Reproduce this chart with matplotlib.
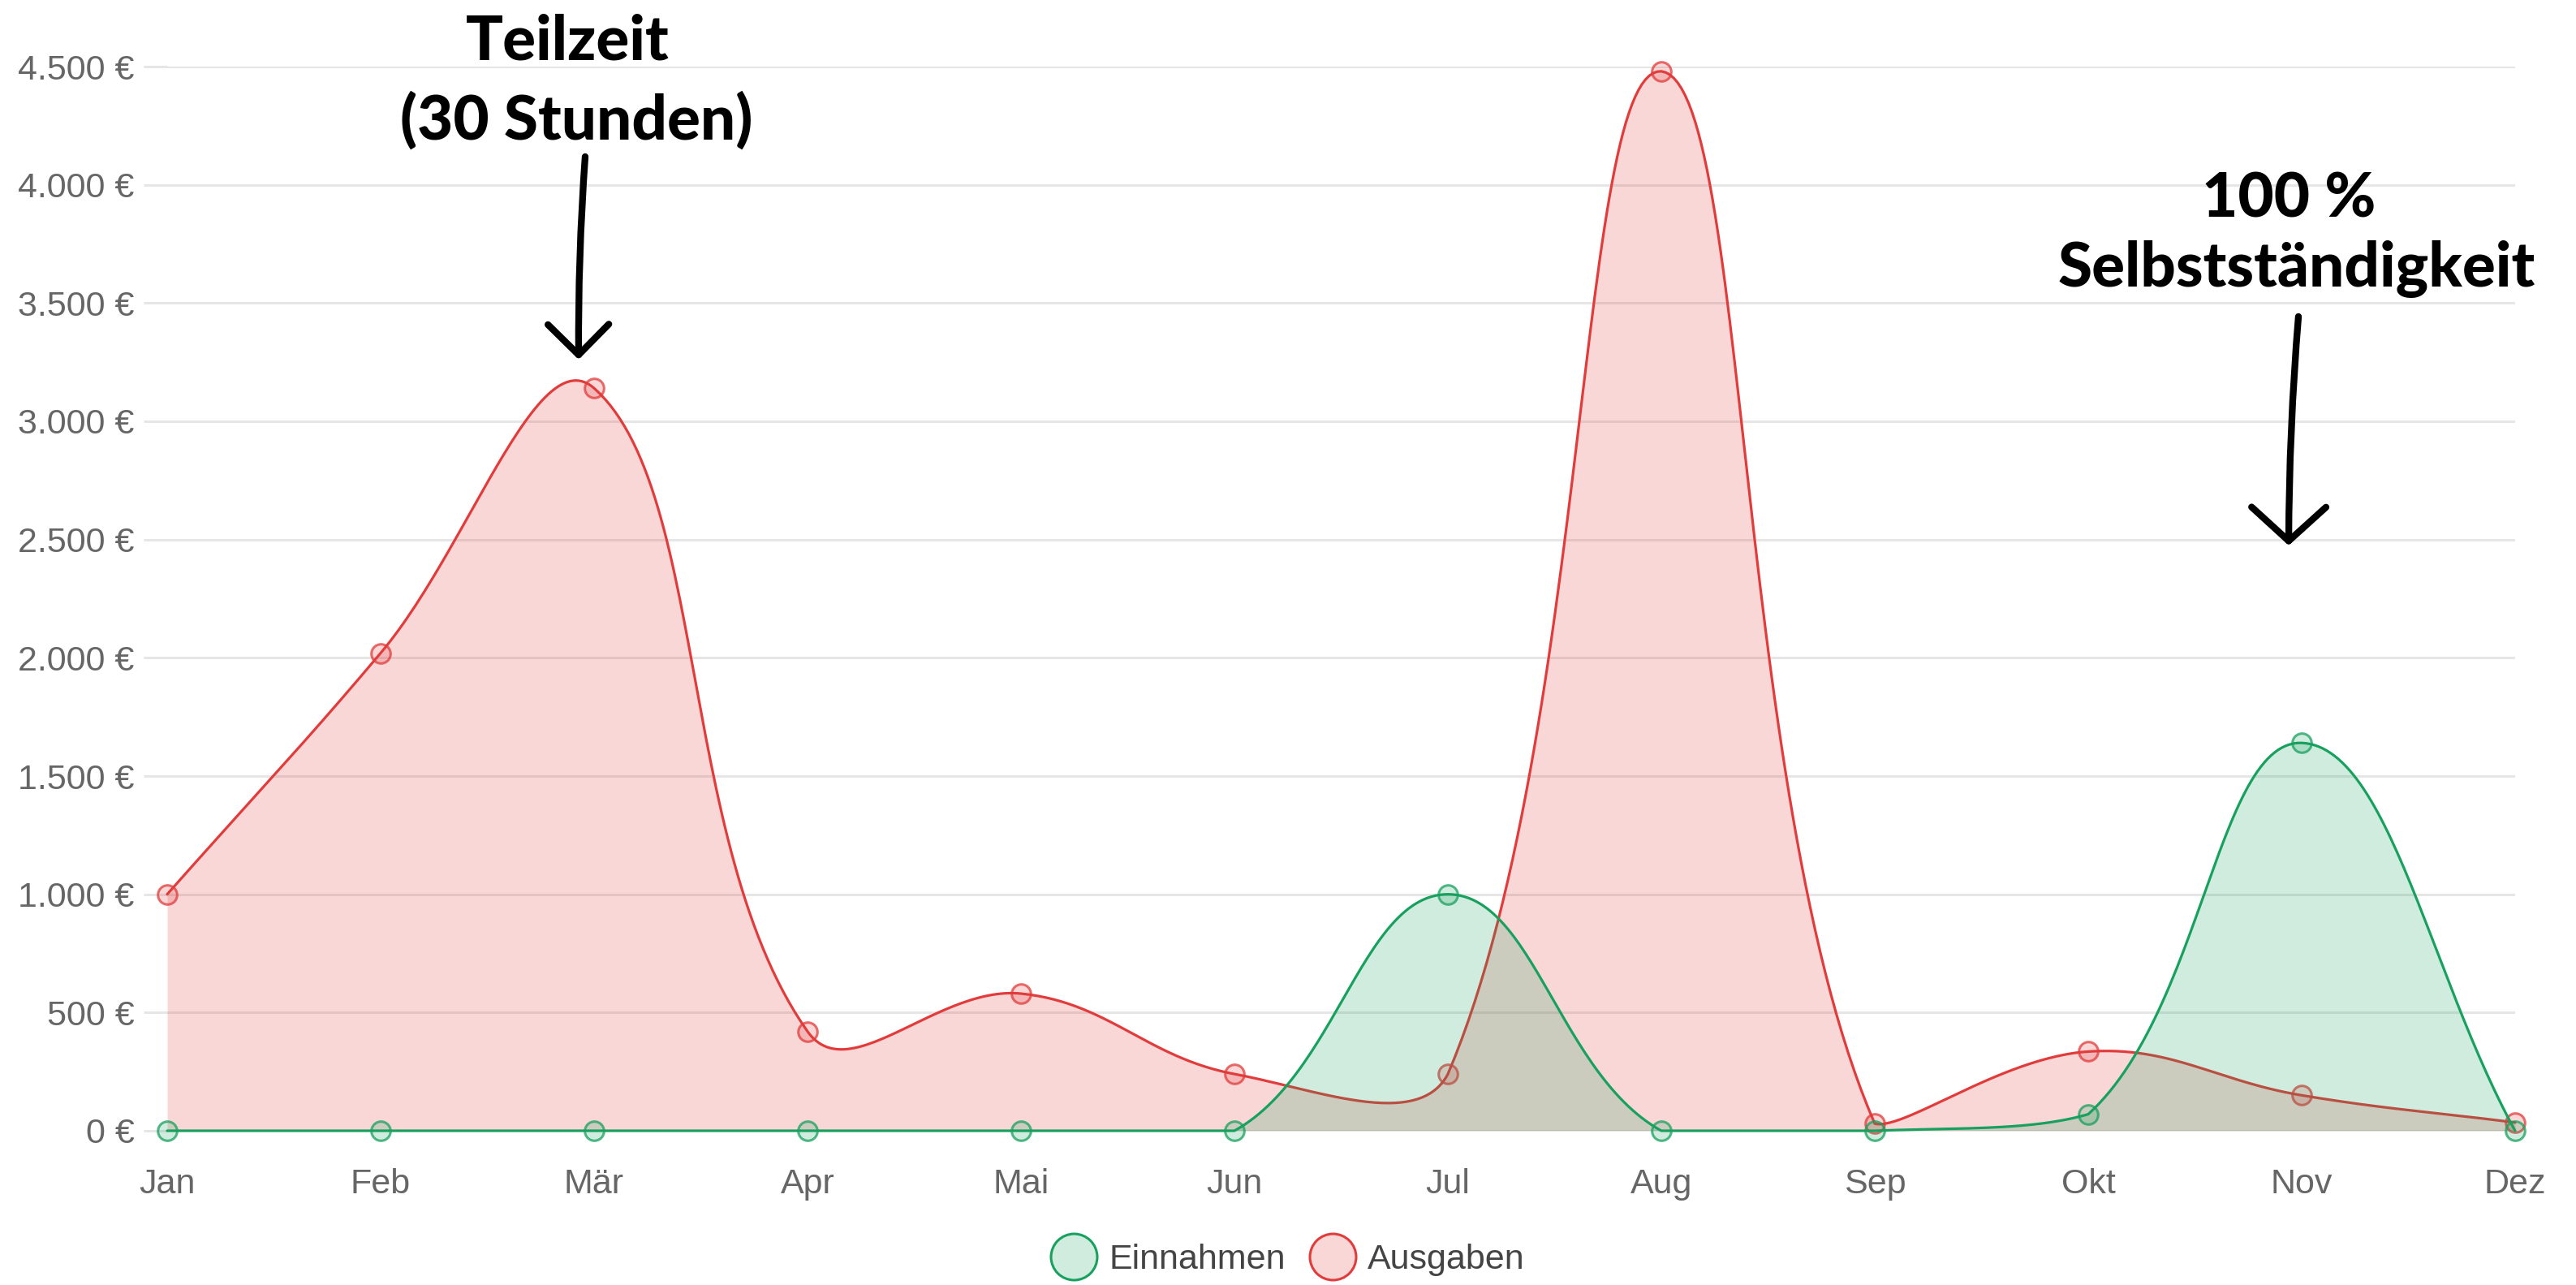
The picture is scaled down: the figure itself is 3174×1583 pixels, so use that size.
import matplotlib
matplotlib.use("Agg")
from matplotlib import pyplot as plt
from matplotlib.lines import Line2D
from matplotlib.ticker import FuncFormatter
import numpy as np

# Daten
monate = ["Jan", "Feb", "Mär", "Apr", "Mai", "Jun", "Jul", "Aug", "Sep", "Okt", "Nov", "Dez"]
einnahmen = [0, 0, 0, 0, 0, 0, 1000, 0, 0, 70, 1640, 0]
ausgaben = [1000, 2020, 3140, 420, 580, 240, 240, 4480, 30, 335, 150, 35]
y_ticks = [0, 500, 1000, 1500, 2000, 2500, 3000, 3500, 4000, 4500]

rot = "#e23b3b"
gruen = "#18a05e"
grid_col = "#e6e6e6"
tick_font = ["Liberation Sans", "DejaVu Sans"]
note_font = ["Lato", "DejaVu Sans"]

W, H = 3174, 1583
fig = plt.figure(figsize=(W / 100, H / 100), dpi=100)
ax = fig.add_axes([206 / W, 1 - 1393 / H, (3099 - 206) / W, (1393 - 82) / H])

xs = np.arange(len(monate))
ax.set_xlim(0, len(monate) - 1)
ax.set_ylim(0, 4500)


def spline(xv, yv, tension=0.4, steps=60):
    # bezier wie chart.js (tension 0.4), berechnet in pixeln
    pts = ax.transData.transform(np.column_stack([xv, yv]))
    lo = ax.transData.transform((xv[0], 0))
    hi = ax.transData.transform((xv[-1], 4500))
    lo, hi = np.minimum(lo, hi), np.maximum(lo, hi)
    n = len(pts)
    cprev, cnext = [], []
    for i in range(n):
        p = pts[max(i - 1, 0)]
        c = pts[i]
        nx = pts[min(i + 1, n - 1)]
        d01 = np.hypot(*(c - p))
        d12 = np.hypot(*(nx - c))
        tot = d01 + d12
        s01 = d01 / tot if tot else 0
        s12 = d12 / tot if tot else 0
        cprev.append(np.clip(c - tension * s01 * (nx - p), lo, hi))
        cnext.append(np.clip(c + tension * s12 * (nx - p), lo, hi))
    t = np.linspace(0, 1, steps)[:, None]
    out = [pts[:1]]
    for i in range(n - 1):
        p0, p1, p2, p3 = pts[i], cnext[i], cprev[i + 1], pts[i + 1]
        seg = ((1 - t) ** 3) * p0 + 3 * ((1 - t) ** 2) * t * p1 + 3 * (1 - t) * t ** 2 * p2 + t ** 3 * p3
        out.append(seg[1:])
    curve = ax.transData.inverted().transform(np.vstack(out))
    return curve[:, 0], curve[:, 1]


def serie(yv, col, z):
    cx, cy = spline(xs, yv)
    ax.fill_between(cx, 0, cy, color=col, alpha=0.2, lw=0, zorder=z)
    ax.plot(cx, cy, color=col, lw=2.3, zorder=z + 1, solid_capstyle="round", clip_on=False)
    ax.plot(xs, yv, "o", ms=17, mfc=matplotlib.colors.to_rgba(col, 0.2),
            mec=matplotlib.colors.to_rgba(col, 0.75), mew=2.2, zorder=z + 2, clip_on=False)


# ausgaben zuerst, einnahmen darueber
serie(ausgaben, rot, 2)
serie(einnahmen, gruen, 5)

ax.set_yticks(y_ticks)
ax.yaxis.set_major_formatter(FuncFormatter(lambda v, p: "{:,}".format(int(v)).replace(",", ".") + " €"))
ax.set_xticks(xs)
ax.set_xticklabels(monate)
ax.yaxis.grid(True, color=grid_col, lw=2.2)
ax.set_axisbelow(True)
for s in ax.spines.values():
    s.set_visible(False)
ax.tick_params(axis="y", length=21, width=2.2, color=grid_col, labelcolor="#666666",
               labelsize=31, pad=8)
ax.tick_params(axis="x", length=0, labelcolor="#666666", labelsize=31, pad=33)
for lab in ax.get_xticklabels() + ax.get_yticklabels():
    lab.set_family(tick_font)

# legende
handles = [
    Line2D([], [], marker="o", ls="", ms=41, mfc=matplotlib.colors.to_rgba(gruen, 0.2), mec=gruen, mew=2.2),
    Line2D([], [], marker="o", ls="", ms=41, mfc=matplotlib.colors.to_rgba(rot, 0.2), mec=rot, mew=2.2),
]
leg = fig.legend(handles, ["Einnahmen", "Ausgaben"], loc="center", bbox_to_anchor=(0.5, 31 / H),
                 ncol=2, frameon=False, handlelength=1.3, handletextpad=0.35, columnspacing=0.7,
                 prop={"family": tick_font, "size": 31})
for txt in leg.get_texts():
    txt.set_color("#444444")

# notizen
def notiz(text, x, y_top):
    fig.text(x / W, 1 - y_top / H, text, ha="center", va="baseline", fontsize=55,
             fontweight=900, family=note_font, color="black")


notiz("Teilzeit", 699, 73)
notiz("(30 Stunden)", 710, 172)
notiz("100 %", 2820, 268)
notiz("Selbstständigkeit", 2830, 353)


def pfeil(x0, y0, x1, y1, hl, hw):
    ax.annotate("", xy=(x1, H - y1), xycoords="figure pixels", xytext=(x0, H - y0),
                textcoords="figure pixels",
                arrowprops=dict(arrowstyle="->,head_length=%s,head_width=%s" % (hl, hw),
                                lw=6, color="black", mutation_scale=10, capstyle="round",
                                connectionstyle="arc3,rad=0.02", shrinkA=0, shrinkB=0))


pfeil(721, 193, 713, 443, 2.7, 2.7)
pfeil(2832, 390, 2820, 672, 3.0, 3.3)

fig.savefig("out.png", dpi=100, facecolor="white")
plt.close("all")
